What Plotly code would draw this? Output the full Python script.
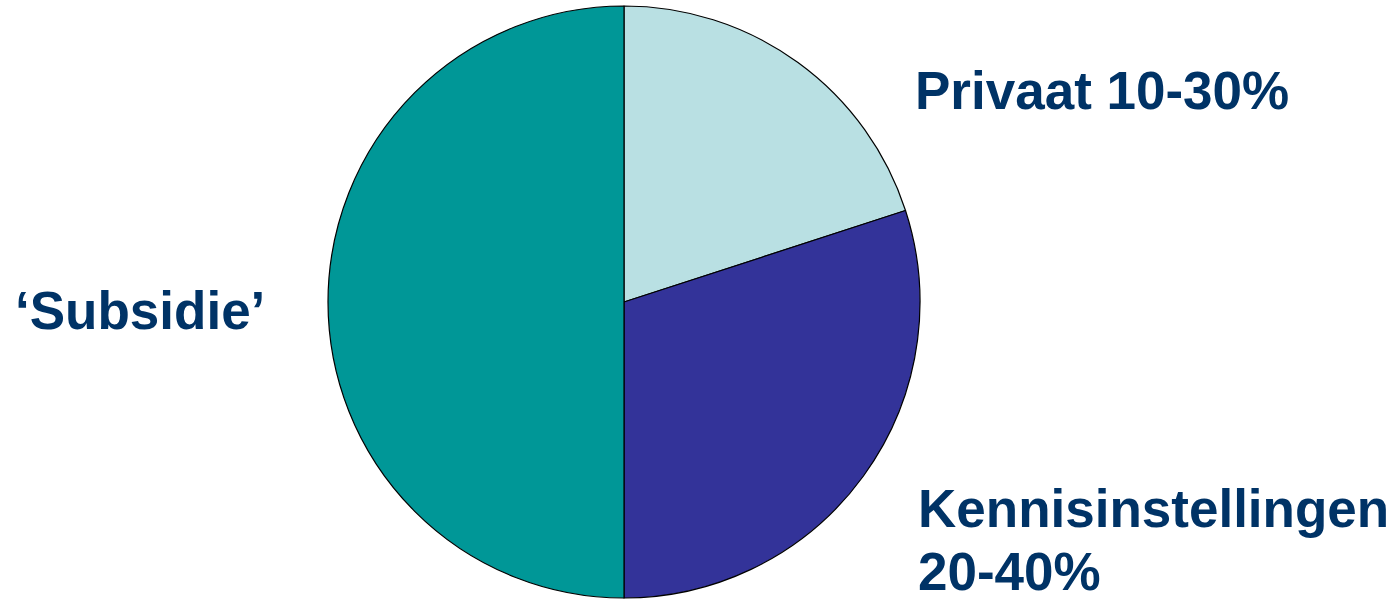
import plotly.graph_objects as go

labels = ["Privaat 10-30%", "Kennisinstellingen<br>20-40%", "‘Subsidie’"]
values = [20, 30, 50]
colors = ["#B9E0E3", "#333399", "#009797"]

W, H = 1399, 600

fig = go.Figure()
fig.add_trace(go.Pie(
    labels=labels,
    values=values,
    sort=False,
    direction="clockwise",
    rotation=0,
    marker=dict(colors=colors, line=dict(color="#000000", width=1.2)),
    textinfo="none",
    hoverinfo="label",
    showlegend=False,
    domain=dict(x=[(624 - 296) / W, (624 + 296) / W],
                y=[(H - 598) / H, (H - 6) / H]),
))

# pixel anchors (left edge, vertical middle) for each label line
label_pos = [[(913, 91)], [(916, 508), (916, 571)], [(13, 310)]]
for lab, lines_pos in zip(labels, label_pos):
    for line, (px, py) in zip(lab.split("<br>"), lines_pos):
        fig.add_annotation(
            x=px / W, y=1 - py / H, xref="paper", yref="paper",
            text=f"<b>{line}</b>", showarrow=False,
            xanchor="left", yanchor="middle", align="left",
            font=dict(family="Liberation Sans, Arial, sans-serif", size=53, color="#003366"),
        )

fig.update_layout(
    width=W, height=H,
    margin=dict(l=0, r=0, t=0, b=0),
    paper_bgcolor="white", plot_bgcolor="white",
)
fig.write_html(
    "out.html",
    config={"displayModeBar": False},
    post_script="document.body.style.margin='0px';document.body.style.overflow='hidden';",
)
